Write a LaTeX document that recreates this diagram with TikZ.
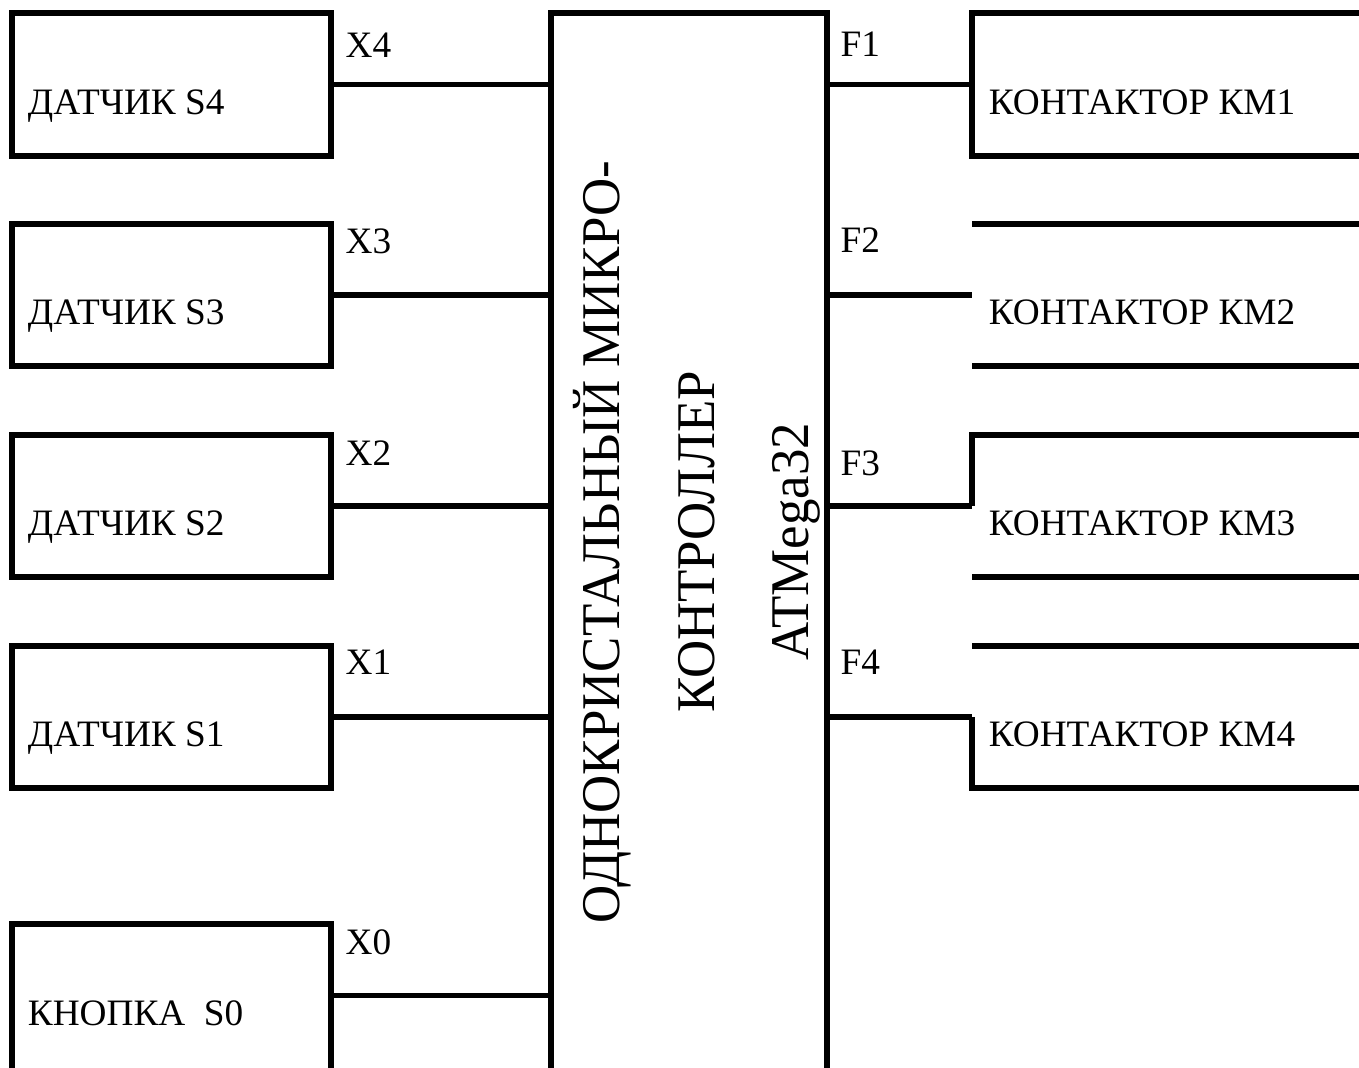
\documentclass[tikz,border=0pt]{standalone}
\usepackage{fontspec}
\setmainfont{Liberation Serif}
\newfontfamily\narrowserif[FakeStretch=0.97]{Liberation Serif}
\usetikzlibrary{positioning,calc}

\begin{document}
\begin{tikzpicture}[
    x=0.01cm, y=-0.01cm,
    every node/.style={font=\fontsize{10.6}{13}\selectfont},
    wire/.style={line width=1.6pt},
    inbox/.style={rectangle, minimum width=3.17cm, minimum height=1.41cm, inner sep=0pt},
    outbox/.style={rectangle, minimum width=3.86cm, minimum height=1.41cm, inner sep=0pt},
    mcubox/.style={rectangle, minimum width=2.74cm, minimum height=10.54cm, inner sep=0pt},
    boxtext/.style={anchor=base west, inner sep=0pt},
    pin/.style={anchor=west, inner sep=0pt}
]

\useasboundingbox (0,0) rectangle (1359,1068);

% === Sensors (left) ===
\node[inbox] (s4) at (171.5,84.5) {};
\node[inbox] (s3) at (171.5,295) {};
\node[inbox] (s2) at (171.5,506) {};
\node[inbox] (s1) at (171.5,717) {};
\node[inbox] (s0) at (171.5,995.5) {};

\node[boxtext] (s4text) at ($(s4.west)+(15,30)$) {ДАТЧИК S4};
\node[boxtext] (s3text) at ($(s3.west)+(15,30)$) {ДАТЧИК S3};
\node[boxtext] (s2text) at ($(s2.west)+(15,30)$) {ДАТЧИК S2};
\node[boxtext] (s1text) at ($(s1.west)+(15,30)$) {ДАТЧИК S1};
\node[boxtext] (s0text) at ($(s0.west)+(15,30)$) {КНОПКА~~S0};

% === Microcontroller ===
\node[mcubox] (mcu) at (689,541) {};
\node[rotate=90, align=center, font=\narrowserif\fontsize{15.5}{26.8}\selectfont] (mcutext) at (697,542)
    {ОДНОКРИСТАЛЬНЫЙ МИКРО-\\КОНТРОЛЛЕР\\ATMega32};

% === Contactors (right) ===
\node[outbox] (km1) at (1166,84.5) {};
\node[outbox] (km2) at (1166,295) {};
\node[outbox] (km3) at (1166,506) {};
\node[outbox] (km4) at (1166,717) {};

\node[boxtext] (km1text) at ($(km1.west)+(16,30)$) {КОНТАКТОР КМ1};
\node[boxtext] (km2text) at ($(km2.west)+(16,30)$) {КОНТАКТОР КМ2};
\node[boxtext] (km3text) at ($(km3.west)+(16,30)$) {КОНТАКТОР КМ3};
\node[boxtext] (km4text) at ($(km4.west)+(16,30)$) {КОНТАКТОР КМ4};

% === Pin labels ===
\node[pin] (x4) at (345,45) {X4};
\node[pin] (x3) at (345,241) {X3};
\node[pin] (x2) at (345,453) {X2};
\node[pin] (x1) at (345,662) {X1};
\node[pin] (x0) at (345,942) {X0};
\node[pin] (f1) at (840,44) {F1};
\node[pin] (f2) at (840,240) {F2};
\node[pin] (f3) at (840,463) {F3};
\node[pin] (f4) at (840,662) {F4};

% === Outlines ===
\draw[wire] (s4.south west) rectangle (s4.north east);
\draw[wire] (s3.south west) rectangle (s3.north east);
\draw[wire] (s2.south west) rectangle (s2.north east);
\draw[wire] (s1.south west) rectangle (s1.north east);
\draw[wire] ([yshift=-1mm]s0.south west) |- (s0.north east) -- ([yshift=-1mm]s0.south east);

\draw[wire] (mcu.south west) |- (mcu.north east) -- (mcu.south east);

\draw[wire] (km1.north east) -| (km1.south west) -- (km1.south east);
\draw[wire] (km2.north west) -- (km2.north east);
\draw[wire] (km2.south west) -- (km2.south east);
\draw[wire] (km3.north east) -| (km3.west);
\draw[wire] (km3.south west) -- (km3.south east);
\draw[wire] (km4.north west) -- (km4.north east);
\draw[wire] (km4.west) |- (km4.south east);

% === Wires ===
\draw[wire] (s4.east) -- (s4.east -| mcu.west);
\draw[wire] (s3.east) -- (s3.east -| mcu.west);
\draw[wire] (s2.east) -- (s2.east -| mcu.west);
\draw[wire] (s1.east) -- (s1.east -| mcu.west);
\draw[wire] (s0.east) -- (s0.east -| mcu.west);

\draw[wire] (mcu.east |- km1.west) -- (km1.west);
\draw[wire] (mcu.east |- km2.west) -- (km2.west);
\draw[wire] (mcu.east |- km3.west) -- (km3.west);
\draw[wire] (mcu.east |- km4.west) -- (km4.west);

\end{tikzpicture}
\end{document}
